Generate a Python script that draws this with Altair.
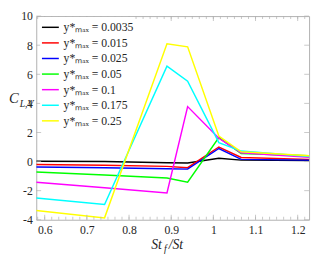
import altair as alt
import pandas as pd

x_vals = [0.58, 0.742, 0.890, 0.939, 1.013, 1.066, 1.227]
series_names = ["y*ₘₐₓ = 0.0035", "y*ₘₐₓ = 0.015", "y*ₘₐₓ = 0.025", "y*ₘₐₓ = 0.05",
                "y*ₘₐₓ = 0.1", "y*ₘₐₓ = 0.175", "y*ₘₐₓ = 0.25"]
series_colors = ["#000000", "#ff0000", "#0000ff", "#00ff00", "#ff00ff", "#00ffff", "#ffff00"]
y_0035 = [0.02, 0.0, -0.08, -0.1, 0.22, 0.1, 0.07]
y_015 = [-0.2, -0.25, -0.33, -0.42, 1.0, 0.28, 0.15]
y_025 = [-0.37, -0.42, -0.5, -0.52, 0.9, 0.15, 0.1]
y_05 = [-0.72, -0.93, -1.13, -1.42, 1.65, 0.55, 0.4]
y_1 = [-1.42, -1.8, -2.16, 3.78, 1.6, 0.6, 0.3]
y_175 = [-2.5, -2.95, 6.56, 5.53, 1.3, 0.72, 0.35]
y_25 = [-3.36, -3.87, 8.1, 7.89, 1.75, 0.67, 0.4]
x_ticks = [0.6, 0.7, 0.8, 0.9, 1.0, 1.1, 1.2]
y_ticks = [-4, -2, 0, 2, 4, 6, 8, 10]

all_series = [y_0035, y_015, y_025, y_05, y_1, y_175, y_25]
rows = []
for i, (name, ys) in enumerate(zip(series_names, all_series)):
    for xv, yv in zip(x_vals, ys):
        rows.append({"x": xv, "y": yv, "s": name, "k": i})
df = pd.DataFrame(rows)

W, H = 280, 209
XD = [0.58, 1.227]
YD = [-4, 10]
xs = alt.Scale(domain=XD, nice=False, zero=False)
ys_ = alt.Scale(domain=YD, nice=False, zero=False)
AX = "#b0b0b0"
LAB = "#262626"
FONT = "Liberation Serif"

x_axis = alt.Axis(values=x_ticks, labelExpr="'' + datum.value", ticks=False, domain=False,
                  grid=False, title=None, labelFont=FONT, labelFontSize=12, labelColor=LAB,
                  labelPadding=5, labelOverlap=False)
y_axis = alt.Axis(values=y_ticks, labelExpr="'' + datum.value", ticks=False, domain=False,
                  grid=False, title=None, labelFont=FONT, labelFontSize=12, labelColor=LAB,
                  labelPadding=4, labelOverlap=False)

lines = alt.Chart(df).mark_line(strokeWidth=1.5, clip=True).encode(
    x=alt.X("x:Q", scale=xs, axis=x_axis),
    y=alt.Y("y:Q", scale=ys_, axis=y_axis),
    color=alt.Color("s:N", scale=alt.Scale(domain=series_names, range=series_colors),
                    legend=alt.Legend(title=None, orient="none", legendX=4, legendY=1,
                                      symbolType="stroke", symbolSize=300, symbolStrokeWidth=1.5,
                                      labelFont=FONT, labelFontSize=12, labelColor=LAB,
                                      rowPadding=-1, padding=1, fillColor="white")),
    detail="k:O",
    order="x:Q",
)

minor = [0.6 + k / 60 for k in range(-1, 38)]
minor = [m for m in minor if XD[0] <= m <= XD[1]]
mdf = pd.DataFrame({"x": minor})
xdf = pd.DataFrame({"x": x_ticks})
ydf = pd.DataFrame({"y": y_ticks})

def xtick(d, ypos, size):
    return alt.Chart(d).mark_tick(color=AX, thickness=1, size=size).encode(
        x=alt.X("x:Q", scale=xs, axis=x_axis), y=alt.value(ypos))

def ytick(d, xpos, size):
    return alt.Chart(d).mark_tick(color=AX, thickness=1, size=size, orient="horizontal").encode(
        y=alt.Y("y:Q", scale=ys_, axis=y_axis), x=alt.value(xpos))

ticks = [xtick(mdf, H - 1.5, 3), xtick(mdf, 1.5, 3), xtick(xdf, H - 2.5, 5), xtick(xdf, 2.5, 5),
         ytick(ydf, 2.5, 5), ytick(ydf, W - 2.5, 5)]

tdf = pd.DataFrame({"t": [0]})
def label(txt, x, y, size, align="left"):
    return alt.Chart(tdf).mark_text(text=txt, font=FONT, fontSize=size, fontStyle="italic",
                                    color=LAB, align=align, baseline="middle").encode(
        x=alt.value(x), y=alt.value(y))

titles = [
    label("C", -28, 84, 15),
    label("L,V", -17, 90, 10),
    label("St", 118, 235, 14),
    label("f", 131, 239, 10),
    label("/St", 136, 235, 14),
]

chart = alt.layer(lines, *ticks, *titles).properties(
    width=W, height=H, padding={"left": 29, "top": 5, "right": 3, "bottom": 38},
    autosize=alt.AutoSizeParams(type="none"),
).configure_view(stroke=AX, strokeWidth=1).configure_axis(labelFont=FONT)

chart.save("out.html", embed_options={"renderer": "svg", "actions": False})
